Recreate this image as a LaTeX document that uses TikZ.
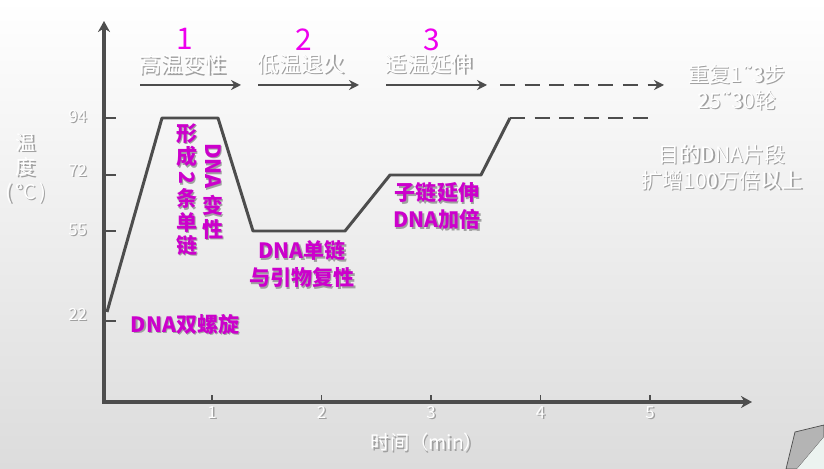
\documentclass[tikz,border=0pt]{standalone}
\usepackage{fontspec}
\setmainfont{Noto Sans CJK SC}
\newfontfamily\symfont{DejaVu Sans}
\usepackage{graphicx}
\usetikzlibrary{arrows.meta,positioning}
\definecolor{axisgray}{RGB}{77,77,77}
\definecolor{pcrmag}{RGB}{204,0,204}
\definecolor{stepmag}{RGB}{238,0,238}
\definecolor{shgray}{RGB}{160,160,160}
\definecolor{bgbottom}{RGB}{220,220,220}
\definecolor{curlgray}{RGB}{180,180,180}
\definecolor{curlback}{RGB}{236,243,240}
\newcommand{\shtxt}[1]{\leavevmode\rlap{\textcolor{shgray}{\kern0.8pt\raisebox{-0.8pt}{#1}}}#1}
\newcommand{\vlat}[1]{\rotatebox[origin=c]{-90}{#1}}
\newcommand{\tl}{{\symfont ˜}}

\begin{document}
\begin{tikzpicture}[x=0.02cm,y=-0.02cm,>=Stealth,
  axis/.style={axisgray,line width=2.2pt},
  curve/.style={axisgray,line width=1.7pt,line join=round},
  stepline/.style={axisgray,line width=1.7pt,-{Stealth[length=2mm,width=2mm]}},
  dashline/.style={dash pattern=on 8.5pt off 5.5pt},
  tick/.style={axisgray,line width=0.6pt},
  lbl/.style={white,font=\fontsize{9.5}{11}\selectfont},
  steptxt/.style={white,font=\fontsize{12.5}{14}\selectfont},
  stepnum/.style={stepmag,font=\fontsize{17}{18}\selectfont},
  side/.style={white,align=center,font=\fontsize{12}{15}\selectfont},
  note/.style={pcrmag,align=center,font=\bfseries\fontsize{12}{15.4}\selectfont},
  vnote/.style={pcrmag,align=center,inner sep=0pt,font=\bfseries\fontsize{12}{12}\selectfont}]
  \useasboundingbox (0,0) rectangle (824,469);
  \shade[top color=white,bottom color=bgbottom] (0,0) rectangle (824,469);
  % page curl in the corner
  \filldraw[fill=curlgray,draw=axisgray,line width=0.4pt]
    (795,432) -- (824,425) -- (824,437) -- (797,469) -- (786,469) -- cycle;
  \fill[curlback] (797,469) -- (824,437) -- (824,469) -- cycle;

  % axes
  \coordinate (O) at (104,402);
  \coordinate (ytop) at (104,21);
  \coordinate (xend) at (752,402);
  \draw[axis,{Stealth[length=2.2mm,width=2.4mm]}-{Stealth[length=2.2mm,width=2.4mm]}] (ytop) -- (O) -- (xend);
  \foreach \v/\yy/\ly in {94/118/117,72/175/171,55/231/230,22/321/315}{
    \draw[tick] (104,\yy) -- (116,\yy);
    \node[lbl,anchor=east] (y\v) at (93,\ly) {\shtxt{\v}};
  }
  \foreach \t in {1,...,5}{
    \draw[tick] ({102.5+109.5*\t},402) -- ({102.5+109.5*\t},395);
    \node[lbl] (x\t) at ({102.5+109.5*\t},413) {\shtxt{\t}};
  }
  \node[white,align=center,font=\fontsize{11.5}{14}\selectfont] (ylab) at (26,169)
    {\shtxt{温}\\\shtxt{度}\\\shtxt{(\,°C\,)}};
  \node[white,font=\fontsize{11}{13}\selectfont] (xlab) at (427,443) {\shtxt{时间（min）}};

  % temperature profile
  \coordinate (c0) at (107,312);
  \coordinate (c1) at (162,118);
  \coordinate (c2) at (218,118);
  \coordinate (c3) at (253,231);
  \coordinate (c4) at (345,231);
  \coordinate (c5) at (390,175);
  \coordinate (c6) at (481,175);
  \coordinate (c7) at (510,118);
  \coordinate (c8) at (648,118);
  \draw[curve] (c0) -- (c1) -- (c2) -- (c3) -- (c4) -- (c5) -- (c6) -- (c7);
  \draw[curve,dashline] (c7) -- (c8);

  % steps
  \coordinate (a1) at (140,85);  \coordinate (b1) at (241,85);
  \coordinate (a2) at (258,85);  \coordinate (b2) at (359,85);
  \coordinate (a3) at (386,85);  \coordinate (b3) at (487,85);
  \coordinate (a4) at (500,85);  \coordinate (b4) at (664,85);
  \draw[stepline] (a1) -- (b1);
  \draw[stepline] (a2) -- (b2);
  \draw[stepline] (a3) -- (b3);
  \draw[stepline,dashline] (a4) -- (b4);
  \node[steptxt] (s1) at (183,65) {\shtxt{高温变性}};
  \node[steptxt] (s2) at (301,65) {\shtxt{低温退火}};
  \node[steptxt] (s3) at (429,65) {\shtxt{适温延伸}};
  \node[stepnum] (n1) at (185,39) {1};
  \node[stepnum] (n2) at (304,40) {2};
  \node[stepnum] (n3) at (432,40) {3};
  \node[side] (rep) at (737,88) {\shtxt{重复1\tl3步}\\\shtxt{25\tl30轮}};
  \node[side] (amp) at (722,168) {\shtxt{目的DNA片段}\\\shtxt{扩增100万倍以上}};

  % what happens to the DNA
  \node[vnote] (chains) at (187,190)
    {\shtxt{形}\\\shtxt{成}\\\shtxt{\vlat{2}}\\\shtxt{条}\\\shtxt{单}\\\shtxt{链}};
  \node[vnote] (denat) at (213,192) {\shtxt{\vlat{DNA}}\\[2pt]\shtxt{变}\\\shtxt{性}};
  \node[note] (anneal) at (302,265) {\shtxt{DNA单链}\\\shtxt{与引物复性}};
  \node[note] (extend) at (437,207) {\shtxt{子链延伸}\\\shtxt{DNA加倍}};
  \node[note] (helix) at (185,325) {\shtxt{DNA双螺旋}};
\end{tikzpicture}
\end{document}
